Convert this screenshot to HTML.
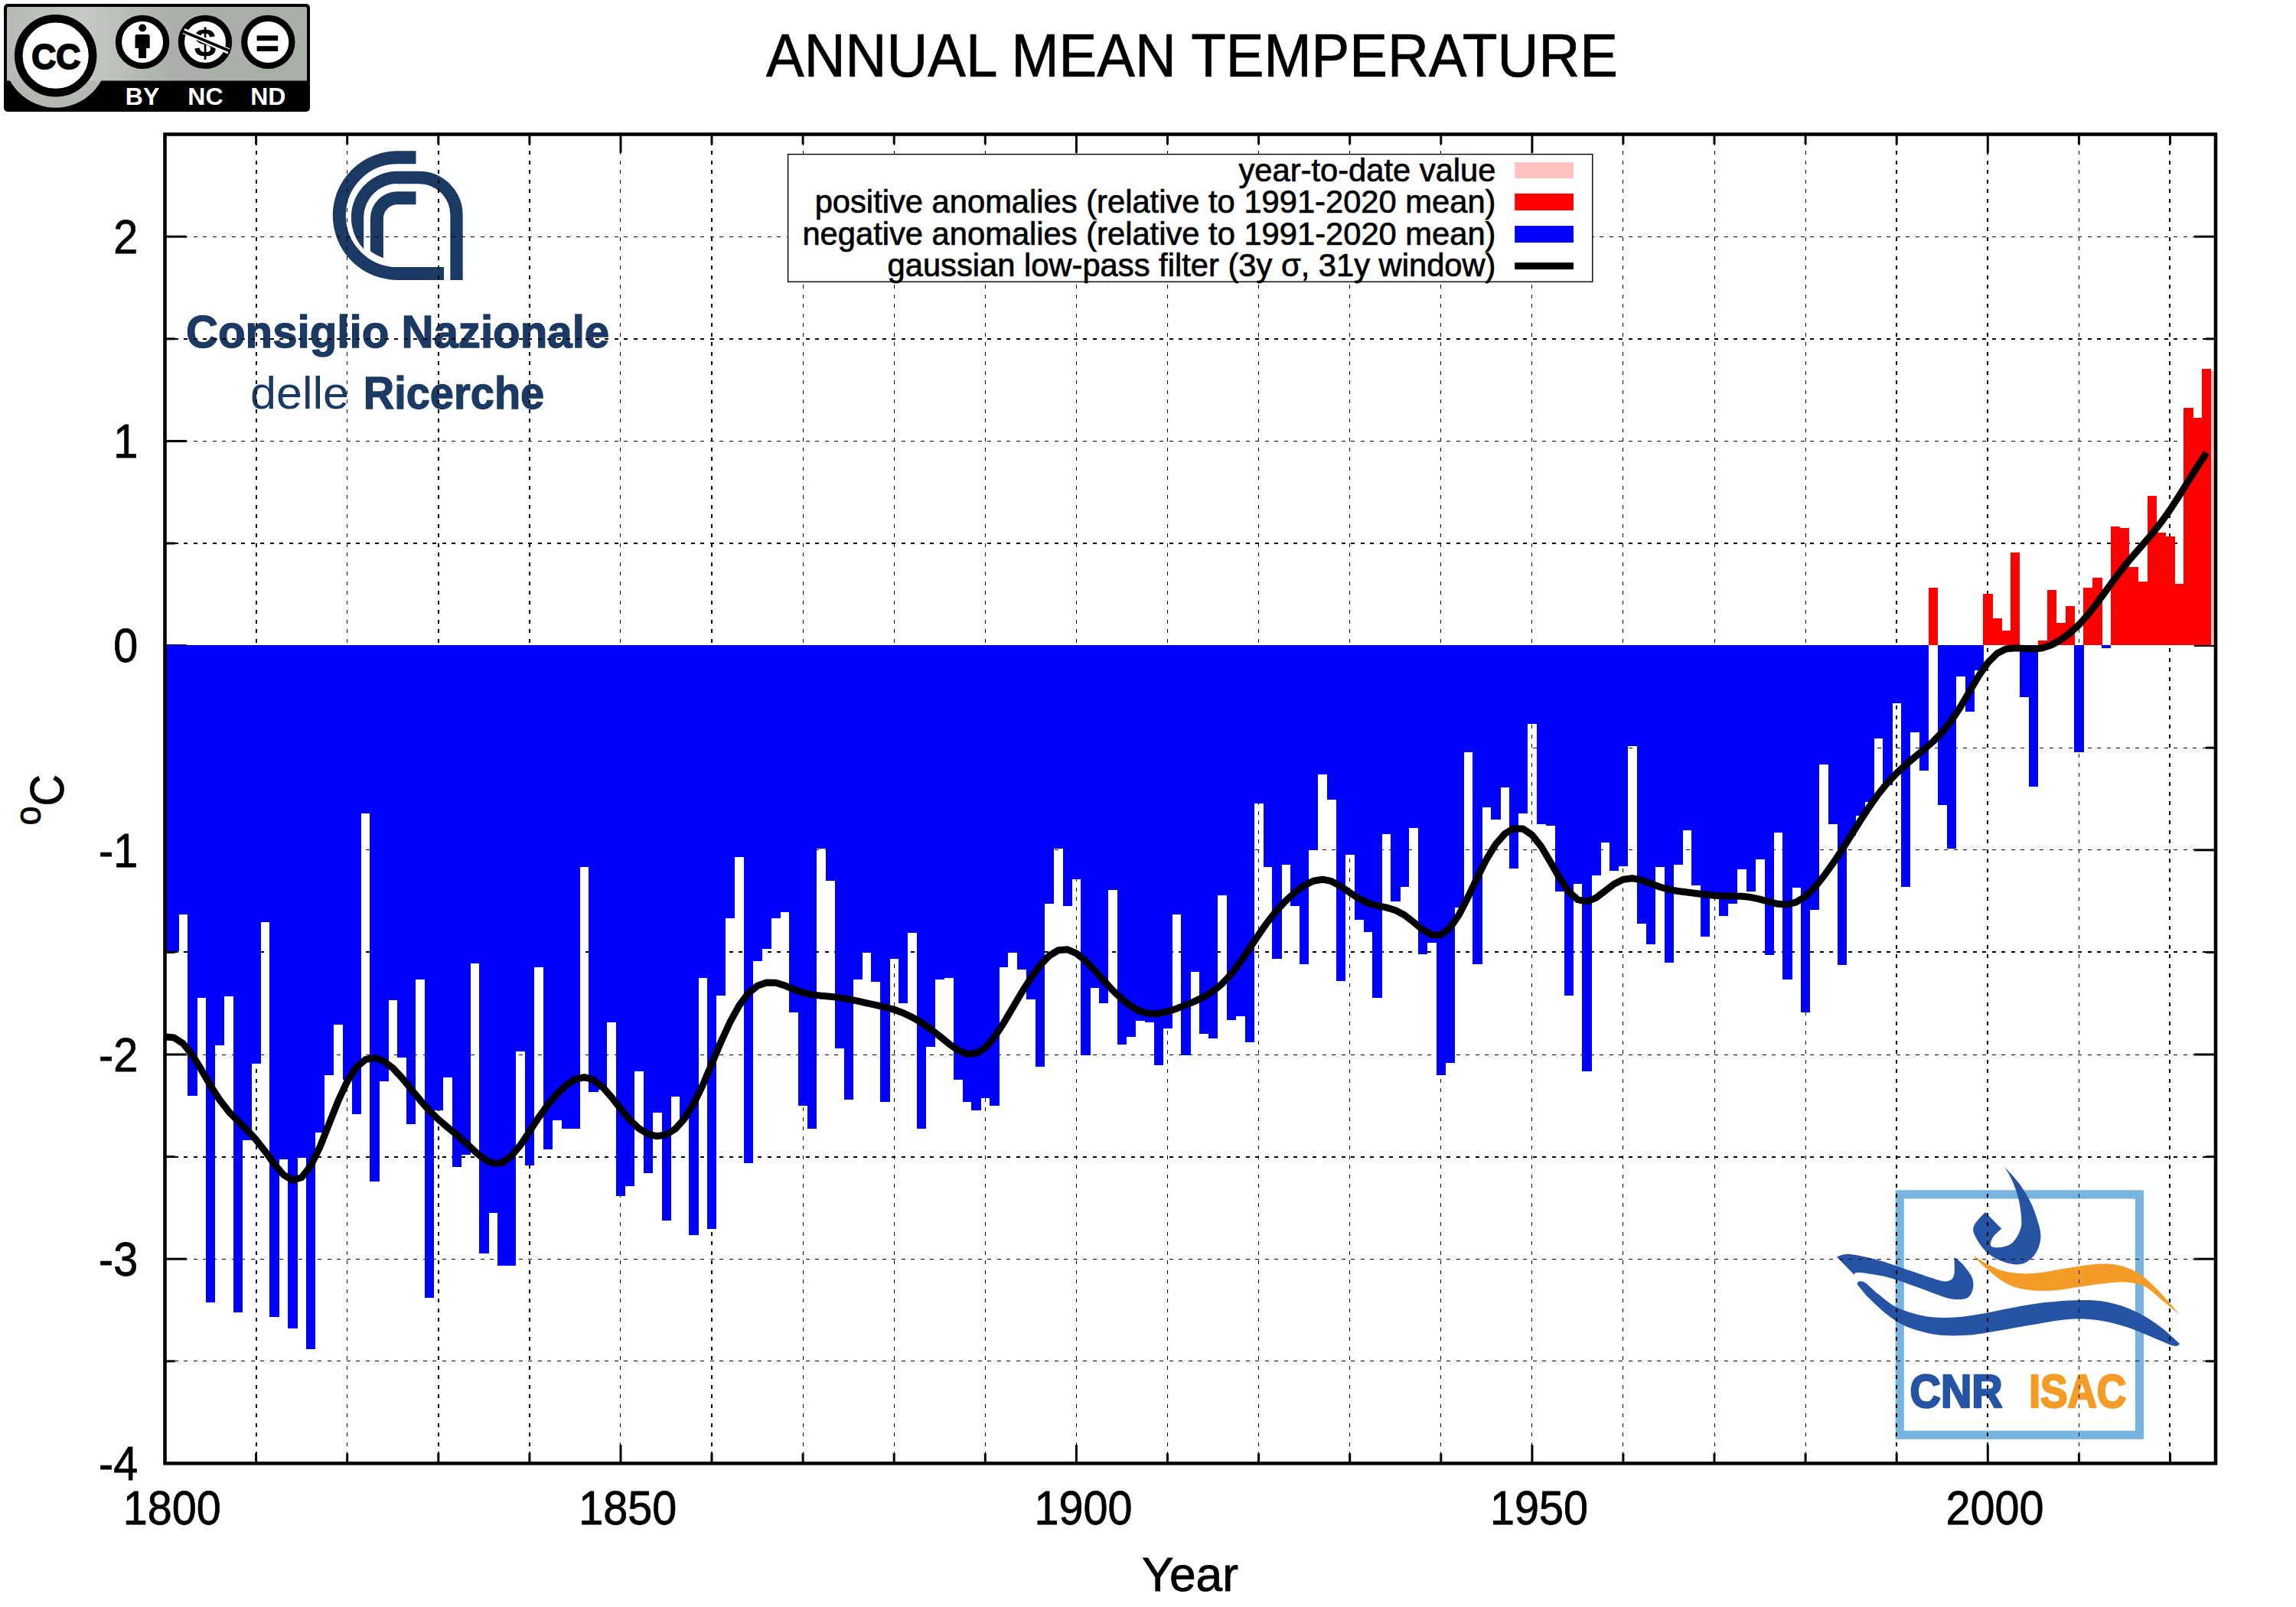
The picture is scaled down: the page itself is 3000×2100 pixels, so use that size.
<!DOCTYPE html>
<html lang="en"><head><meta charset="utf-8"><title>ANNUAL MEAN TEMPERATURE</title>
<style>html,body{margin:0;padding:0;background:#fff}body{width:3000px;height:2100px;overflow:hidden}svg text{fill:#000}.hv{stroke:#000;stroke-width:0.8px}.leg{stroke:#000;stroke-width:0.7px}</style>
</head><body>
<svg width="3000" height="2100" viewBox="0 0 3000 2100" style="display:block">
<rect width="3000" height="2100" fill="#fff"/>
<g><path d="M543.5,205.7 L519.2,205.7 A75.9,75.9 0 0 0 519.2,357.5 L580.1,357.5" fill="none" stroke="#1b3a63" stroke-width="17"/><path d="M519.2,223.8 A60.3,60.3 0 0 0 475.2,325.3 L475.2,284.1 A44.0,44.0 0 0 1 519.2,240.1 Z" fill="#1b3a63"/><path d="M518.7,232.0 L547.5,232.0 A49,49 0 0 1 596.5,281.0 L596.5,366" fill="none" stroke="#1b3a63" stroke-width="16.3"/><path d="M543.5,250.3 L519.2,250.3 A35.3,35.3 0 0 0 483.9,285.6 L483.9,328.2 A58.5,58.5 0 0 0 500.9,337.2 L500.9,285.6 A18.3,18.3 0 0 1 519.2,267.3 L543.5,267.3 Z" fill="#1b3a63"/></g>
<text x="243" y="454.4" font-family="'Liberation Sans',sans-serif" font-weight="700" font-size="59" style="fill:#1b3a63;stroke:#1b3a63;stroke-width:1.3px" textLength="553.2" lengthAdjust="spacingAndGlyphs">Consiglio Nazionale</text>
<text x="327" y="534" font-family="'Liberation Sans',sans-serif" font-size="59" style="fill:#1b3a63" textLength="129" lengthAdjust="spacingAndGlyphs">delle</text>
<text x="474.8" y="534" font-family="'Liberation Sans',sans-serif" font-weight="700" font-size="59" style="fill:#1b3a63;stroke:#1b3a63;stroke-width:1.3px" textLength="236.4" lengthAdjust="spacingAndGlyphs">Ricerche</text>
<rect x="2482.2" y="1560.9" width="313.3" height="314.3" fill="none" stroke="#78b4e0" stroke-width="11.2"/>
<path d="M2427.8,1679.7 C2427.6,1679.1 2426.3,1677.1 2426.8,1676.2 C2427.3,1675.3 2429.1,1674.1 2431.0,1674.2 C2433.0,1674.4 2434.5,1674.3 2438.5,1677.2 C2442.4,1680.1 2447.8,1686.3 2454.7,1691.6 C2461.5,1696.9 2469.2,1704.3 2479.6,1709.1 C2489.9,1713.8 2504.4,1718.2 2516.9,1720.3 C2529.3,1722.3 2541.8,1722.1 2554.2,1721.5 C2566.7,1720.9 2579.1,1718.6 2591.5,1716.5 C2604.0,1714.5 2616.4,1711.3 2628.9,1709.1 C2641.3,1706.8 2651.7,1704.5 2666.2,1702.8 C2680.7,1701.2 2701.5,1699.3 2716.0,1699.1 C2730.5,1698.9 2740.9,1699.1 2753.3,1701.6 C2765.8,1704.1 2779.0,1708.6 2790.7,1714.0 C2802.3,1719.4 2813.4,1726.9 2823.0,1733.9 C2832.6,1741.0 2844.2,1752.6 2848.4,1756.3 L2848.4,1756.3 C2847.1,1756.8 2845.9,1760.1 2840.4,1758.8 C2835.0,1757.6 2825.9,1753.0 2815.5,1748.9 C2805.2,1744.7 2790.7,1737.9 2778.2,1733.9 C2765.8,1730.0 2753.3,1726.9 2740.9,1725.2 C2728.4,1723.6 2718.1,1723.0 2703.5,1724.0 C2689.0,1725.0 2670.4,1728.8 2653.8,1731.5 C2637.2,1734.2 2618.5,1737.9 2604.0,1740.2 C2589.5,1742.5 2579.1,1744.5 2566.7,1745.1 C2554.2,1745.8 2541.8,1745.8 2529.3,1743.9 C2516.9,1742.0 2502.4,1738.1 2492.0,1733.9 C2481.6,1729.8 2475.4,1725.2 2467.1,1719.0 C2458.8,1712.8 2448.8,1703.2 2442.2,1696.6 C2435.7,1690.1 2430.2,1682.5 2427.8,1679.7 Z" fill="#2654a4"/>
<path d="M2399.9,1642.4 C2402.8,1641.8 2408.2,1638.1 2417.3,1638.9 C2426.5,1639.6 2442.2,1643.4 2454.7,1646.8 C2467.1,1650.2 2479.6,1655.1 2492.0,1659.3 C2504.4,1663.4 2520.6,1669.2 2529.3,1671.7 C2538.0,1674.2 2540.3,1675.0 2544.3,1674.2 C2548.2,1673.4 2551.4,1671.9 2553.0,1666.7 C2554.5,1661.6 2553.4,1647.0 2553.5,1643.1 L2553.5,1643.1 C2555.3,1644.6 2560.3,1647.5 2564.2,1651.8 C2568.0,1656.2 2574.3,1663.8 2576.6,1669.2 C2578.9,1674.6 2578.7,1679.8 2577.9,1684.2 C2577.0,1688.5 2574.7,1693.1 2571.6,1695.4 C2568.5,1697.7 2564.2,1697.9 2559.2,1697.9 C2554.2,1697.9 2550.9,1698.1 2541.8,1695.4 C2532.6,1692.7 2516.9,1686.0 2504.4,1681.7 C2492.0,1677.3 2479.6,1672.3 2467.1,1669.2 C2454.7,1666.1 2437.2,1663.6 2429.8,1663.0 C2422.3,1662.4 2423.6,1665.1 2422.3,1665.5 Z" fill="#2654a4"/>
<path d="M2619.4,1524.9 C2622.7,1528.6 2633.1,1539.4 2638.8,1547.3 C2644.6,1555.2 2649.6,1563.5 2653.8,1572.2 C2657.9,1580.9 2661.6,1591.7 2663.7,1599.6 C2665.8,1607.4 2667.0,1612.8 2666.2,1619.5 C2665.4,1626.1 2662.9,1634.0 2658.7,1639.4 C2654.6,1644.8 2648.0,1650.2 2641.3,1651.8 C2634.7,1653.5 2626.4,1651.8 2618.9,1649.3 C2611.5,1646.8 2602.7,1642.3 2596.5,1636.9 C2590.3,1631.5 2584.5,1622.8 2581.6,1617.0 C2578.7,1611.2 2577.0,1607.5 2579.1,1602.0 C2581.2,1596.6 2591.5,1587.1 2594.0,1584.1 L2615.2,1605.8 C2613.3,1607.6 2606.3,1613.2 2604.0,1617.0 C2601.7,1620.7 2599.8,1626.0 2601.5,1628.2 C2603.2,1630.3 2609.4,1630.5 2613.9,1629.9 C2618.5,1629.3 2624.7,1627.8 2628.9,1624.4 C2633.0,1621.0 2636.8,1614.5 2638.8,1609.5 C2640.9,1604.5 2641.5,1601.6 2641.3,1594.6 C2641.1,1587.5 2639.7,1575.9 2637.6,1567.2 C2635.5,1558.5 2631.9,1549.4 2628.9,1542.3 C2625.9,1535.3 2621.0,1527.8 2619.4,1524.9 Z" fill="#2654a4"/>
<path d="M2577.9,1640.6 C2581.0,1642.5 2590.1,1648.5 2596.5,1651.8 C2603.0,1655.1 2609.0,1658.5 2616.4,1660.5 C2623.9,1662.6 2633.0,1663.8 2641.3,1664.3 C2649.6,1664.7 2655.8,1664.3 2666.2,1663.0 C2676.6,1661.8 2691.1,1658.7 2703.5,1656.8 C2716.0,1654.9 2730.5,1652.4 2740.9,1651.8 C2751.2,1651.2 2757.5,1651.4 2765.8,1653.1 C2774.1,1654.7 2782.4,1657.0 2790.7,1661.8 C2798.9,1666.5 2805.8,1672.1 2815.5,1681.7 C2825.3,1691.2 2843.5,1712.8 2849.1,1719.0 L2849.1,1719.0 C2845.6,1716.1 2835.7,1707.8 2828.0,1701.6 C2820.3,1695.4 2811.4,1686.0 2803.1,1681.7 C2794.8,1677.3 2786.5,1676.3 2778.2,1675.5 C2769.9,1674.6 2763.7,1675.7 2753.3,1676.7 C2743.0,1677.7 2728.4,1680.0 2716.0,1681.7 C2703.5,1683.3 2691.1,1686.2 2678.7,1686.7 C2666.2,1687.1 2651.7,1686.2 2641.3,1684.2 C2631.0,1682.1 2624.7,1679.2 2616.4,1674.2 C2608.1,1669.2 2598.0,1659.9 2591.5,1654.3 C2585.1,1648.7 2580.1,1642.9 2577.9,1640.6 Z" fill="#f59c28"/>
<text x="2495.6" y="1838.8" font-family="'Liberation Sans',sans-serif" font-weight="700" font-size="62" style="fill:#2654a4;stroke:#2654a4;stroke-width:2.6px;stroke-linejoin:round" textLength="121" lengthAdjust="spacingAndGlyphs">CNR</text>
<text x="2651.2" y="1838.8" font-family="'Liberation Sans',sans-serif" font-weight="700" font-size="62" style="fill:#f59c28;stroke:#f59c28;stroke-width:2.6px;stroke-linejoin:round" textLength="127" lengthAdjust="spacingAndGlyphs">ISAC</text>
<g stroke="#000" stroke-width="1" stroke-dasharray="4.8 7.7" fill="none" shape-rendering="crispEdges"><line x1="215.4" y1="1778.5" x2="2895.0" y2="1778.5"/><line x1="215.4" y1="1645.5" x2="2895.0" y2="1645.5"/><line x1="215.4" y1="1378.5" x2="2895.0" y2="1378.5"/><line x1="215.4" y1="1110.5" x2="2895.0" y2="1110.5"/><line x1="215.4" y1="977.5" x2="2895.0" y2="977.5"/><line x1="215.4" y1="576.5" x2="2895.0" y2="576.5"/><line x1="215.4" y1="309.5" x2="2895.0" y2="309.5"/><line x1="453.5" y1="1902.0" x2="453.5" y2="175.5"/><line x1="810.5" y1="1902.0" x2="810.5" y2="175.5"/><line x1="1049.5" y1="1902.0" x2="1049.5" y2="175.5"/><line x1="1168.5" y1="1902.0" x2="1168.5" y2="175.5"/><line x1="1287.5" y1="1902.0" x2="1287.5" y2="175.5"/><line x1="1406.5" y1="1902.0" x2="1406.5" y2="175.5"/><line x1="1525.5" y1="1902.0" x2="1525.5" y2="175.5"/><line x1="1644.5" y1="1902.0" x2="1644.5" y2="175.5"/><line x1="1763.5" y1="1902.0" x2="1763.5" y2="175.5"/><line x1="1882.5" y1="1902.0" x2="1882.5" y2="175.5"/><line x1="2001.5" y1="1902.0" x2="2001.5" y2="175.5"/><line x1="2120.5" y1="1902.0" x2="2120.5" y2="175.5"/><line x1="2240.5" y1="1902.0" x2="2240.5" y2="175.5"/><line x1="2359.5" y1="1902.0" x2="2359.5" y2="175.5"/><line x1="2716.5" y1="1902.0" x2="2716.5" y2="175.5"/></g>
<g stroke="#000" stroke-width="2" stroke-dasharray="4.8 7.7" fill="none" shape-rendering="crispEdges"><line x1="215.4" y1="1512.0" x2="2895.0" y2="1512.0"/><line x1="215.4" y1="1244.0" x2="2895.0" y2="1244.0"/><line x1="215.4" y1="710.0" x2="2895.0" y2="710.0"/><line x1="215.4" y1="443.0" x2="2895.0" y2="443.0"/><line x1="335.0" y1="1902.0" x2="335.0" y2="175.5"/><line x1="573.0" y1="1902.0" x2="573.0" y2="175.5"/><line x1="692.0" y1="1902.0" x2="692.0" y2="175.5"/><line x1="930.0" y1="1902.0" x2="930.0" y2="175.5"/><line x1="2478.0" y1="1902.0" x2="2478.0" y2="175.5"/><line x1="2597.0" y1="1902.0" x2="2597.0" y2="175.5"/><line x1="2835.0" y1="1902.0" x2="2835.0" y2="175.5"/></g>
<g stroke="#000" stroke-width="3" fill="none"><line x1="334.6" y1="1912.3" x2="334.6" y2="1899.1"/><line x1="334.6" y1="175.5" x2="334.6" y2="188.7"/><line x1="453.7" y1="1912.3" x2="453.7" y2="1899.1"/><line x1="453.7" y1="175.5" x2="453.7" y2="188.7"/><line x1="572.8" y1="1912.3" x2="572.8" y2="1899.1"/><line x1="572.8" y1="175.5" x2="572.8" y2="188.7"/><line x1="691.9" y1="1912.3" x2="691.9" y2="1899.1"/><line x1="691.9" y1="175.5" x2="691.9" y2="188.7"/><line x1="811.0" y1="1912.3" x2="811.0" y2="1888.1"/><line x1="811.0" y1="175.5" x2="811.0" y2="199.7"/><line x1="930.0" y1="1912.3" x2="930.0" y2="1899.1"/><line x1="930.0" y1="175.5" x2="930.0" y2="188.7"/><line x1="1049.1" y1="1912.3" x2="1049.1" y2="1899.1"/><line x1="1049.1" y1="175.5" x2="1049.1" y2="188.7"/><line x1="1168.2" y1="1912.3" x2="1168.2" y2="1899.1"/><line x1="1168.2" y1="175.5" x2="1168.2" y2="188.7"/><line x1="1287.3" y1="1912.3" x2="1287.3" y2="1899.1"/><line x1="1287.3" y1="175.5" x2="1287.3" y2="188.7"/><line x1="1406.4" y1="1912.3" x2="1406.4" y2="1888.1"/><line x1="1406.4" y1="175.5" x2="1406.4" y2="199.7"/><line x1="1525.5" y1="1912.3" x2="1525.5" y2="1899.1"/><line x1="1525.5" y1="175.5" x2="1525.5" y2="188.7"/><line x1="1644.6" y1="1912.3" x2="1644.6" y2="1899.1"/><line x1="1644.6" y1="175.5" x2="1644.6" y2="188.7"/><line x1="1763.7" y1="1912.3" x2="1763.7" y2="1899.1"/><line x1="1763.7" y1="175.5" x2="1763.7" y2="188.7"/><line x1="1882.8" y1="1912.3" x2="1882.8" y2="1899.1"/><line x1="1882.8" y1="175.5" x2="1882.8" y2="188.7"/><line x1="2001.9" y1="1912.3" x2="2001.9" y2="1888.1"/><line x1="2001.9" y1="175.5" x2="2001.9" y2="199.7"/><line x1="2120.9" y1="1912.3" x2="2120.9" y2="1899.1"/><line x1="2120.9" y1="175.5" x2="2120.9" y2="188.7"/><line x1="2240.0" y1="1912.3" x2="2240.0" y2="1899.1"/><line x1="2240.0" y1="175.5" x2="2240.0" y2="188.7"/><line x1="2359.1" y1="1912.3" x2="2359.1" y2="1899.1"/><line x1="2359.1" y1="175.5" x2="2359.1" y2="188.7"/><line x1="2478.2" y1="1912.3" x2="2478.2" y2="1899.1"/><line x1="2478.2" y1="175.5" x2="2478.2" y2="188.7"/><line x1="2597.3" y1="1912.3" x2="2597.3" y2="1888.1"/><line x1="2597.3" y1="175.5" x2="2597.3" y2="199.7"/><line x1="2716.4" y1="1912.3" x2="2716.4" y2="1899.1"/><line x1="2716.4" y1="175.5" x2="2716.4" y2="188.7"/><line x1="2835.5" y1="1912.3" x2="2835.5" y2="1899.1"/><line x1="2835.5" y1="175.5" x2="2835.5" y2="188.7"/><line x1="215.5" y1="1778.8" x2="228.7" y2="1778.8"/><line x1="2895.0" y1="1778.8" x2="2881.8" y2="1778.8"/><line x1="215.5" y1="1645.2" x2="243.7" y2="1645.2"/><line x1="2895.0" y1="1645.2" x2="2866.8" y2="1645.2"/><line x1="215.5" y1="1511.6" x2="228.7" y2="1511.6"/><line x1="2895.0" y1="1511.6" x2="2881.8" y2="1511.6"/><line x1="215.5" y1="1378.0" x2="243.7" y2="1378.0"/><line x1="2895.0" y1="1378.0" x2="2866.8" y2="1378.0"/><line x1="215.5" y1="1244.4" x2="228.7" y2="1244.4"/><line x1="2895.0" y1="1244.4" x2="2881.8" y2="1244.4"/><line x1="215.5" y1="1110.8" x2="243.7" y2="1110.8"/><line x1="2895.0" y1="1110.8" x2="2866.8" y2="1110.8"/><line x1="215.5" y1="977.2" x2="228.7" y2="977.2"/><line x1="2895.0" y1="977.2" x2="2881.8" y2="977.2"/><line x1="215.5" y1="843.6" x2="243.7" y2="843.6"/><line x1="2895.0" y1="843.6" x2="2866.8" y2="843.6"/><line x1="215.5" y1="710.0" x2="228.7" y2="710.0"/><line x1="2895.0" y1="710.0" x2="2881.8" y2="710.0"/><line x1="215.5" y1="576.4" x2="243.7" y2="576.4"/><line x1="2895.0" y1="576.4" x2="2866.8" y2="576.4"/><line x1="215.5" y1="442.8" x2="228.7" y2="442.8"/><line x1="2895.0" y1="442.8" x2="2881.8" y2="442.8"/><line x1="215.5" y1="309.2" x2="243.7" y2="309.2"/><line x1="2895.0" y1="309.2" x2="2866.8" y2="309.2"/></g>
<g shape-rendering="crispEdges"><rect x="215.50" y="843.4" width="6.30" height="399.6" fill="#0000ff"/><rect x="221.45" y="843.4" width="12.26" height="399.6" fill="#0000ff"/><rect x="233.36" y="843.4" width="12.26" height="351.6" fill="#0000ff"/><rect x="245.27" y="843.4" width="12.26" height="588.6" fill="#0000ff"/><rect x="257.18" y="843.4" width="12.26" height="460.6" fill="#0000ff"/><rect x="269.09" y="843.4" width="12.26" height="858.6" fill="#0000ff"/><rect x="281.00" y="843.4" width="12.26" height="522.6" fill="#0000ff"/><rect x="292.91" y="843.4" width="12.26" height="458.6" fill="#0000ff"/><rect x="304.82" y="843.4" width="12.26" height="871.6" fill="#0000ff"/><rect x="316.73" y="843.4" width="12.26" height="646.6" fill="#0000ff"/><rect x="328.64" y="843.4" width="12.26" height="546.6" fill="#0000ff"/><rect x="340.54" y="843.4" width="12.26" height="361.6" fill="#0000ff"/><rect x="352.45" y="843.4" width="12.26" height="877.1" fill="#0000ff"/><rect x="364.36" y="843.4" width="12.26" height="671.2" fill="#0000ff"/><rect x="376.27" y="843.4" width="12.26" height="892.8" fill="#0000ff"/><rect x="388.18" y="843.4" width="12.26" height="669.1" fill="#0000ff"/><rect x="400.09" y="843.4" width="12.26" height="919.9" fill="#0000ff"/><rect x="412.00" y="843.4" width="12.26" height="636.6" fill="#0000ff"/><rect x="423.91" y="843.4" width="12.26" height="562.0" fill="#0000ff"/><rect x="435.82" y="843.4" width="12.26" height="495.6" fill="#0000ff"/><rect x="447.73" y="843.4" width="12.26" height="567.6" fill="#0000ff"/><rect x="459.63" y="843.4" width="12.26" height="612.9" fill="#0000ff"/><rect x="471.54" y="843.4" width="12.26" height="219.6" fill="#0000ff"/><rect x="483.45" y="843.4" width="12.26" height="701.0" fill="#0000ff"/><rect x="495.36" y="843.4" width="12.26" height="569.9" fill="#0000ff"/><rect x="507.27" y="843.4" width="12.26" height="463.1" fill="#0000ff"/><rect x="519.18" y="843.4" width="12.26" height="538.2" fill="#0000ff"/><rect x="531.09" y="843.4" width="12.26" height="626.0" fill="#0000ff"/><rect x="543.00" y="843.4" width="12.26" height="436.6" fill="#0000ff"/><rect x="554.91" y="843.4" width="12.26" height="853.0" fill="#0000ff"/><rect x="566.82" y="843.4" width="12.26" height="607.2" fill="#0000ff"/><rect x="578.72" y="843.4" width="12.26" height="564.6" fill="#0000ff"/><rect x="590.63" y="843.4" width="12.26" height="681.9" fill="#0000ff"/><rect x="602.54" y="843.4" width="12.26" height="665.9" fill="#0000ff"/><rect x="614.45" y="843.4" width="12.26" height="415.6" fill="#0000ff"/><rect x="626.36" y="843.4" width="12.26" height="794.2" fill="#0000ff"/><rect x="638.27" y="843.4" width="12.26" height="741.2" fill="#0000ff"/><rect x="650.18" y="843.4" width="12.26" height="811.0" fill="#0000ff"/><rect x="662.09" y="843.4" width="12.26" height="811.0" fill="#0000ff"/><rect x="674.00" y="843.4" width="12.26" height="530.6" fill="#0000ff"/><rect x="685.91" y="843.4" width="12.26" height="679.3" fill="#0000ff"/><rect x="697.81" y="843.4" width="12.26" height="420.6" fill="#0000ff"/><rect x="709.72" y="843.4" width="12.26" height="658.1" fill="#0000ff"/><rect x="721.63" y="843.4" width="12.26" height="621.0" fill="#0000ff"/><rect x="733.54" y="843.4" width="12.26" height="631.2" fill="#0000ff"/><rect x="745.45" y="843.4" width="12.26" height="631.2" fill="#0000ff"/><rect x="757.36" y="843.4" width="12.26" height="289.3" fill="#0000ff"/><rect x="769.27" y="843.4" width="12.26" height="583.1" fill="#0000ff"/><rect x="781.18" y="843.4" width="12.26" height="580.6" fill="#0000ff"/><rect x="793.09" y="843.4" width="12.26" height="492.6" fill="#0000ff"/><rect x="805.00" y="843.4" width="12.26" height="719.2" fill="#0000ff"/><rect x="816.90" y="843.4" width="12.26" height="706.1" fill="#0000ff"/><rect x="828.81" y="843.4" width="12.26" height="556.4" fill="#0000ff"/><rect x="840.72" y="843.4" width="12.26" height="689.9" fill="#0000ff"/><rect x="852.63" y="843.4" width="12.26" height="610.2" fill="#0000ff"/><rect x="864.54" y="843.4" width="12.26" height="751.3" fill="#0000ff"/><rect x="876.45" y="843.4" width="12.26" height="589.1" fill="#0000ff"/><rect x="888.36" y="843.4" width="12.26" height="618.6" fill="#0000ff"/><rect x="900.27" y="843.4" width="12.26" height="770.2" fill="#0000ff"/><rect x="912.18" y="843.4" width="12.26" height="434.1" fill="#0000ff"/><rect x="924.09" y="843.4" width="12.26" height="762.3" fill="#0000ff"/><rect x="935.99" y="843.4" width="12.26" height="457.9" fill="#0000ff"/><rect x="947.90" y="843.4" width="12.26" height="356.5" fill="#0000ff"/><rect x="959.81" y="843.4" width="12.26" height="276.3" fill="#0000ff"/><rect x="971.72" y="843.4" width="12.26" height="676.9" fill="#0000ff"/><rect x="983.63" y="843.4" width="12.26" height="412.2" fill="#0000ff"/><rect x="995.54" y="843.4" width="12.26" height="396.2" fill="#0000ff"/><rect x="1007.45" y="843.4" width="12.26" height="356.5" fill="#0000ff"/><rect x="1019.36" y="843.4" width="12.26" height="348.4" fill="#0000ff"/><rect x="1031.27" y="843.4" width="12.26" height="479.1" fill="#0000ff"/><rect x="1043.18" y="843.4" width="12.26" height="601.6" fill="#0000ff"/><rect x="1055.08" y="843.4" width="12.26" height="631.1" fill="#0000ff"/><rect x="1066.99" y="843.4" width="12.26" height="265.6" fill="#0000ff"/><rect x="1078.90" y="843.4" width="12.26" height="307.9" fill="#0000ff"/><rect x="1090.81" y="843.4" width="12.26" height="526.8" fill="#0000ff"/><rect x="1102.72" y="843.4" width="12.26" height="593.8" fill="#0000ff"/><rect x="1114.63" y="843.4" width="12.26" height="436.5" fill="#0000ff"/><rect x="1126.54" y="843.4" width="12.26" height="401.7" fill="#0000ff"/><rect x="1138.45" y="843.4" width="12.26" height="439.3" fill="#0000ff"/><rect x="1150.36" y="843.4" width="12.26" height="596.1" fill="#0000ff"/><rect x="1162.27" y="843.4" width="12.26" height="409.5" fill="#0000ff"/><rect x="1174.17" y="843.4" width="12.26" height="468.0" fill="#0000ff"/><rect x="1186.08" y="843.4" width="12.26" height="375.6" fill="#0000ff"/><rect x="1197.99" y="843.4" width="12.26" height="631.1" fill="#0000ff"/><rect x="1209.90" y="843.4" width="12.26" height="524.1" fill="#0000ff"/><rect x="1221.81" y="843.4" width="12.26" height="436.5" fill="#0000ff"/><rect x="1233.72" y="843.4" width="12.26" height="434.1" fill="#0000ff"/><rect x="1245.63" y="843.4" width="12.26" height="567.2" fill="#0000ff"/><rect x="1257.54" y="843.4" width="12.26" height="596.1" fill="#0000ff"/><rect x="1269.45" y="843.4" width="12.26" height="607.1" fill="#0000ff"/><rect x="1281.36" y="843.4" width="12.26" height="591.2" fill="#0000ff"/><rect x="1293.26" y="843.4" width="12.26" height="601.6" fill="#0000ff"/><rect x="1305.17" y="843.4" width="12.26" height="420.5" fill="#0000ff"/><rect x="1317.08" y="843.4" width="12.26" height="401.7" fill="#0000ff"/><rect x="1328.99" y="843.4" width="12.26" height="423.1" fill="#0000ff"/><rect x="1340.90" y="843.4" width="12.26" height="462.6" fill="#0000ff"/><rect x="1352.81" y="843.4" width="12.26" height="550.9" fill="#0000ff"/><rect x="1364.72" y="843.4" width="12.26" height="337.4" fill="#0000ff"/><rect x="1376.63" y="843.4" width="12.26" height="265.6" fill="#0000ff"/><rect x="1388.54" y="843.4" width="12.26" height="340.2" fill="#0000ff"/><rect x="1400.45" y="843.4" width="12.26" height="305.4" fill="#0000ff"/><rect x="1412.35" y="843.4" width="12.26" height="535.1" fill="#0000ff"/><rect x="1424.26" y="843.4" width="12.26" height="447.3" fill="#0000ff"/><rect x="1436.17" y="843.4" width="12.26" height="468.0" fill="#0000ff"/><rect x="1448.08" y="843.4" width="12.26" height="319.3" fill="#0000ff"/><rect x="1459.99" y="843.4" width="12.26" height="522.0" fill="#0000ff"/><rect x="1471.90" y="843.4" width="12.26" height="511.1" fill="#0000ff"/><rect x="1483.81" y="843.4" width="12.26" height="490.2" fill="#0000ff"/><rect x="1495.72" y="843.4" width="12.26" height="492.3" fill="#0000ff"/><rect x="1507.63" y="843.4" width="12.26" height="549.0" fill="#0000ff"/><rect x="1519.54" y="843.4" width="12.26" height="500.1" fill="#0000ff"/><rect x="1531.44" y="843.4" width="12.26" height="351.1" fill="#0000ff"/><rect x="1543.35" y="843.4" width="12.26" height="535.1" fill="#0000ff"/><rect x="1555.26" y="843.4" width="12.26" height="426.1" fill="#0000ff"/><rect x="1567.17" y="843.4" width="12.26" height="507.9" fill="#0000ff"/><rect x="1579.08" y="843.4" width="12.26" height="513.7" fill="#0000ff"/><rect x="1590.99" y="843.4" width="12.26" height="326.6" fill="#0000ff"/><rect x="1602.90" y="843.4" width="12.26" height="489.9" fill="#0000ff"/><rect x="1614.81" y="843.4" width="12.26" height="484.4" fill="#0000ff"/><rect x="1626.72" y="843.4" width="12.26" height="518.9" fill="#0000ff"/><rect x="1638.63" y="843.4" width="12.26" height="206.6" fill="#0000ff"/><rect x="1650.53" y="843.4" width="12.26" height="289.5" fill="#0000ff"/><rect x="1662.44" y="843.4" width="12.26" height="409.2" fill="#0000ff"/><rect x="1674.35" y="843.4" width="12.26" height="286.9" fill="#0000ff"/><rect x="1686.26" y="843.4" width="12.26" height="340.2" fill="#0000ff"/><rect x="1698.17" y="843.4" width="12.26" height="417.0" fill="#0000ff"/><rect x="1710.08" y="843.4" width="12.26" height="267.8" fill="#0000ff"/><rect x="1721.99" y="843.4" width="12.26" height="169.0" fill="#0000ff"/><rect x="1733.90" y="843.4" width="12.26" height="201.1" fill="#0000ff"/><rect x="1745.81" y="843.4" width="12.26" height="438.9" fill="#0000ff"/><rect x="1757.72" y="843.4" width="12.26" height="273.6" fill="#0000ff"/><rect x="1769.62" y="843.4" width="12.26" height="359.0" fill="#0000ff"/><rect x="1781.53" y="843.4" width="12.26" height="374.9" fill="#0000ff"/><rect x="1793.44" y="843.4" width="12.26" height="460.1" fill="#0000ff"/><rect x="1805.35" y="843.4" width="12.26" height="246.4" fill="#0000ff"/><rect x="1817.26" y="843.4" width="12.26" height="334.3" fill="#0000ff"/><rect x="1829.17" y="843.4" width="12.26" height="316.0" fill="#0000ff"/><rect x="1841.08" y="843.4" width="12.26" height="238.4" fill="#0000ff"/><rect x="1852.99" y="843.4" width="12.26" height="403.9" fill="#0000ff"/><rect x="1864.90" y="843.4" width="12.26" height="388.3" fill="#0000ff"/><rect x="1876.81" y="843.4" width="12.26" height="562.0" fill="#0000ff"/><rect x="1888.71" y="843.4" width="12.26" height="545.8" fill="#0000ff"/><rect x="1900.62" y="843.4" width="12.26" height="342.8" fill="#0000ff"/><rect x="1912.53" y="843.4" width="12.26" height="139.5" fill="#0000ff"/><rect x="1924.44" y="843.4" width="12.26" height="417.0" fill="#0000ff"/><rect x="1936.35" y="843.4" width="12.26" height="211.4" fill="#0000ff"/><rect x="1948.26" y="843.4" width="12.26" height="228.0" fill="#0000ff"/><rect x="1960.17" y="843.4" width="12.26" height="185.2" fill="#0000ff"/><rect x="1972.08" y="843.4" width="12.26" height="291.9" fill="#0000ff"/><rect x="1983.99" y="843.4" width="12.26" height="219.2" fill="#0000ff"/><rect x="1995.90" y="843.4" width="12.26" height="102.1" fill="#0000ff"/><rect x="2007.80" y="843.4" width="12.26" height="233.1" fill="#0000ff"/><rect x="2019.71" y="843.4" width="12.26" height="236.0" fill="#0000ff"/><rect x="2031.62" y="843.4" width="12.26" height="321.1" fill="#0000ff"/><rect x="2043.53" y="843.4" width="12.26" height="457.9" fill="#0000ff"/><rect x="2055.44" y="843.4" width="12.26" height="311.1" fill="#0000ff"/><rect x="2067.35" y="843.4" width="12.26" height="556.4" fill="#0000ff"/><rect x="2079.26" y="843.4" width="12.26" height="300.2" fill="#0000ff"/><rect x="2091.17" y="843.4" width="12.26" height="257.3" fill="#0000ff"/><rect x="2103.08" y="843.4" width="12.26" height="294.4" fill="#0000ff"/><rect x="2114.99" y="843.4" width="12.26" height="289.0" fill="#0000ff"/><rect x="2126.89" y="843.4" width="12.26" height="131.6" fill="#0000ff"/><rect x="2138.80" y="843.4" width="12.26" height="363.9" fill="#0000ff"/><rect x="2150.71" y="843.4" width="12.26" height="391.0" fill="#0000ff"/><rect x="2162.62" y="843.4" width="12.26" height="289.1" fill="#0000ff"/><rect x="2174.53" y="843.4" width="12.26" height="415.0" fill="#0000ff"/><rect x="2186.44" y="843.4" width="12.26" height="286.6" fill="#0000ff"/><rect x="2198.35" y="843.4" width="12.26" height="241.4" fill="#0000ff"/><rect x="2210.26" y="843.4" width="12.26" height="313.3" fill="#0000ff"/><rect x="2222.17" y="843.4" width="12.26" height="380.3" fill="#0000ff"/><rect x="2234.08" y="843.4" width="12.26" height="328.6" fill="#0000ff"/><rect x="2245.98" y="843.4" width="12.26" height="353.3" fill="#0000ff"/><rect x="2257.89" y="843.4" width="12.26" height="337.6" fill="#0000ff"/><rect x="2269.80" y="843.4" width="12.26" height="292.3" fill="#0000ff"/><rect x="2281.71" y="843.4" width="12.26" height="321.1" fill="#0000ff"/><rect x="2293.62" y="843.4" width="12.26" height="279.1" fill="#0000ff"/><rect x="2305.53" y="843.4" width="12.26" height="404.3" fill="#0000ff"/><rect x="2317.44" y="843.4" width="12.26" height="244.2" fill="#0000ff"/><rect x="2329.35" y="843.4" width="12.26" height="436.2" fill="#0000ff"/><rect x="2341.26" y="843.4" width="12.26" height="316.1" fill="#0000ff"/><rect x="2353.17" y="843.4" width="12.26" height="479.3" fill="#0000ff"/><rect x="2365.07" y="843.4" width="12.26" height="345.1" fill="#0000ff"/><rect x="2376.98" y="843.4" width="12.26" height="155.6" fill="#0000ff"/><rect x="2388.89" y="843.4" width="12.26" height="233.2" fill="#0000ff"/><rect x="2400.80" y="843.4" width="12.26" height="417.4" fill="#0000ff"/><rect x="2412.71" y="843.4" width="12.26" height="248.9" fill="#0000ff"/><rect x="2424.62" y="843.4" width="12.26" height="222.6" fill="#0000ff"/><rect x="2436.53" y="843.4" width="12.26" height="204.1" fill="#0000ff"/><rect x="2448.44" y="843.4" width="12.26" height="121.1" fill="#0000ff"/><rect x="2460.35" y="843.4" width="12.26" height="182.2" fill="#0000ff"/><rect x="2472.26" y="843.4" width="12.26" height="75.6" fill="#0000ff"/><rect x="2484.16" y="843.4" width="12.26" height="315.6" fill="#0000ff"/><rect x="2496.07" y="843.4" width="12.26" height="113.2" fill="#0000ff"/><rect x="2507.98" y="843.4" width="12.26" height="163.9" fill="#0000ff"/><rect x="2519.89" y="767.9" width="12.26" height="75.5" fill="#ff0000"/><rect x="2531.80" y="843.4" width="12.26" height="209.0" fill="#0000ff"/><rect x="2543.71" y="843.4" width="12.26" height="265.1" fill="#0000ff"/><rect x="2555.62" y="843.4" width="12.26" height="40.3" fill="#0000ff"/><rect x="2567.53" y="843.4" width="12.26" height="86.1" fill="#0000ff"/><rect x="2579.44" y="843.4" width="12.26" height="32.6" fill="#0000ff"/><rect x="2591.35" y="776.0" width="12.26" height="67.4" fill="#ff0000"/><rect x="2603.25" y="808.3" width="12.26" height="35.1" fill="#ff0000"/><rect x="2615.16" y="824.0" width="12.26" height="19.4" fill="#ff0000"/><rect x="2627.07" y="722.0" width="12.26" height="121.4" fill="#ff0000"/><rect x="2638.98" y="843.4" width="12.26" height="67.3" fill="#0000ff"/><rect x="2650.89" y="843.4" width="12.26" height="184.8" fill="#0000ff"/><rect x="2662.80" y="837.1" width="12.26" height="6.3" fill="#ff0000"/><rect x="2674.71" y="770.9" width="12.26" height="72.5" fill="#ff0000"/><rect x="2686.62" y="814.0" width="12.26" height="29.4" fill="#ff0000"/><rect x="2698.53" y="792.0" width="12.26" height="51.4" fill="#ff0000"/><rect x="2710.44" y="843.4" width="12.26" height="139.1" fill="#0000ff"/><rect x="2722.34" y="768.1" width="12.26" height="75.3" fill="#ff0000"/><rect x="2734.25" y="755.1" width="12.26" height="88.3" fill="#ff0000"/><rect x="2746.16" y="843.4" width="12.26" height="3.2" fill="#0000ff"/><rect x="2758.07" y="688.1" width="12.26" height="155.3" fill="#ff0000"/><rect x="2769.98" y="690.1" width="12.26" height="153.3" fill="#ff0000"/><rect x="2781.89" y="741.1" width="12.26" height="102.3" fill="#ff0000"/><rect x="2793.80" y="760.1" width="12.26" height="83.3" fill="#ff0000"/><rect x="2805.71" y="648.1" width="12.26" height="195.3" fill="#ff0000"/><rect x="2817.62" y="696.3" width="12.26" height="147.1" fill="#ff0000"/><rect x="2829.53" y="701.3" width="12.26" height="142.1" fill="#ff0000"/><rect x="2841.43" y="762.9" width="12.26" height="80.5" fill="#ff0000"/><rect x="2853.34" y="533.1" width="12.26" height="310.3" fill="#ff0000"/><rect x="2865.25" y="546.1" width="12.26" height="297.3" fill="#ff0000"/><rect x="2877.16" y="482.3" width="12.26" height="361.1" fill="#ff0000"/><rect x="2889.07" y="484.8" width="5.93" height="358.6" fill="#ffc0c0"/></g>
<path d="M215.5,1354.8 L227.4,1355.9 L239.3,1363.7 L251.2,1378.5 L263.1,1397.9 L275.0,1418.6 L287.0,1437.3 L298.9,1452.6 L310.8,1465.0 L322.7,1476.5 L334.6,1489.4 L346.5,1504.7 L358.4,1521.2 L370.3,1535.2 L382.2,1542.2 L394.1,1538.7 L406.0,1523.5 L418.0,1498.8 L429.9,1468.9 L441.8,1438.8 L453.7,1413.2 L465.6,1394.8 L477.5,1384.6 L489.4,1382.3 L501.3,1386.5 L513.2,1395.7 L525.1,1408.4 L537.0,1423.0 L549.0,1437.7 L560.9,1451.3 L572.8,1462.9 L584.7,1473.0 L596.6,1482.8 L608.5,1493.3 L620.4,1504.5 L632.3,1514.5 L644.2,1520.3 L656.1,1519.5 L668.0,1511.0 L680.0,1496.4 L691.9,1478.6 L703.8,1460.4 L715.7,1443.9 L727.6,1429.7 L739.5,1418.3 L751.4,1410.5 L763.3,1407.7 L775.2,1411.0 L787.1,1420.3 L799.0,1433.8 L811.0,1449.0 L822.9,1463.3 L834.8,1474.7 L846.7,1482.0 L858.6,1484.8 L870.5,1482.7 L882.4,1475.3 L894.3,1462.0 L906.2,1442.7 L918.1,1418.2 L930.0,1390.3 L941.9,1361.8 L953.9,1335.6 L965.8,1314.0 L977.7,1298.1 L989.6,1288.2 L1001.5,1283.9 L1013.4,1284.2 L1025.3,1287.9 L1037.2,1292.9 L1049.1,1297.2 L1061.0,1299.9 L1072.9,1301.3 L1084.9,1302.2 L1096.8,1303.6 L1108.7,1305.7 L1120.6,1308.2 L1132.5,1310.8 L1144.4,1313.3 L1156.3,1316.0 L1168.2,1319.3 L1180.1,1323.8 L1192.0,1329.4 L1203.9,1336.4 L1215.9,1344.7 L1227.8,1354.1 L1239.7,1363.8 L1251.6,1372.3 L1263.5,1377.3 L1275.4,1376.6 L1287.3,1369.2 L1299.2,1355.5 L1311.1,1337.4 L1323.0,1317.2 L1334.9,1297.0 L1346.9,1278.1 L1358.8,1261.7 L1370.7,1249.1 L1382.6,1241.8 L1394.5,1240.7 L1406.4,1245.8 L1418.3,1255.5 L1430.2,1268.0 L1442.1,1281.3 L1454.0,1294.2 L1465.9,1305.6 L1477.9,1315.0 L1489.8,1321.5 L1501.7,1324.6 L1513.6,1324.5 L1525.5,1322.0 L1537.4,1318.0 L1549.3,1313.4 L1561.2,1308.4 L1573.1,1302.6 L1585.0,1295.2 L1596.9,1285.5 L1608.9,1272.7 L1620.8,1257.1 L1632.7,1239.4 L1644.6,1221.4 L1656.5,1204.5 L1668.4,1189.6 L1680.3,1176.9 L1692.2,1166.0 L1704.1,1157.2 L1716.0,1151.3 L1727.9,1149.2 L1739.9,1151.7 L1751.8,1158.1 L1763.7,1166.4 L1775.6,1174.3 L1787.5,1180.1 L1799.4,1183.5 L1811.3,1185.9 L1823.2,1189.5 L1835.1,1195.8 L1847.0,1205.0 L1858.9,1214.9 L1870.9,1221.8 L1882.8,1221.7 L1894.7,1212.6 L1906.6,1195.0 L1918.5,1171.6 L1930.4,1146.4 L1942.3,1122.8 L1954.2,1103.4 L1966.1,1089.7 L1978.0,1082.7 L1989.9,1083.1 L2001.9,1091.2 L2013.8,1106.3 L2025.7,1126.2 L2037.6,1147.1 L2049.5,1164.7 L2061.4,1175.6 L2073.3,1178.1 L2085.2,1173.3 L2097.1,1164.4 L2109.0,1155.3 L2120.9,1149.3 L2132.8,1147.7 L2144.8,1150.1 L2156.7,1154.5 L2168.6,1159.0 L2180.5,1162.3 L2192.4,1164.5 L2204.3,1166.0 L2216.2,1167.5 L2228.1,1169.0 L2240.0,1170.2 L2251.9,1170.8 L2263.8,1171.0 L2275.8,1171.3 L2287.7,1172.6 L2299.6,1175.1 L2311.5,1178.5 L2323.4,1181.3 L2335.3,1181.9 L2347.2,1178.8 L2359.1,1171.3 L2371.0,1159.7 L2382.9,1145.0 L2394.8,1128.4 L2406.8,1110.4 L2418.7,1091.7 L2430.6,1072.7 L2442.5,1054.3 L2454.4,1037.5 L2466.3,1022.9 L2478.2,1010.4 L2490.1,999.4 L2502.0,989.3 L2513.9,979.5 L2525.8,969.0 L2537.8,956.7 L2549.7,941.8 L2561.6,923.7 L2573.5,903.5 L2585.4,883.3 L2597.3,866.1 L2609.2,854.1 L2621.1,848.0 L2633.0,846.7 L2644.9,847.6 L2656.8,848.3 L2668.8,846.8 L2680.7,842.8 L2692.6,836.2 L2704.5,827.4 L2716.4,816.4 L2728.3,803.1 L2740.2,787.9 L2752.1,771.5 L2764.0,755.1 L2775.9,739.7 L2787.8,725.4 L2799.8,711.8 L2811.7,697.9 L2823.6,682.8 L2835.5,666.1 L2847.4,647.8 L2859.3,628.7 L2871.2,609.7 L2883.1,591.8" fill="none" stroke="#000" stroke-width="9" stroke-linejoin="round" stroke-linecap="butt"/>
<rect x="1029.6" y="201.6" width="1051.2000000000003" height="166.6" fill="#fff" stroke="#000" stroke-width="1.4"/>
<rect x="1979.2" y="212.1" width="76.8" height="20.9" fill="#ffc0c0"/>
<rect x="1979.2" y="252.9" width="76.8" height="22.0" fill="#ff0000"/>
<rect x="1979.2" y="295.1" width="76.8" height="21.9" fill="#0000ff"/>
<rect x="1979.2" y="343.1" width="76.8" height="9" fill="#000"/>
<text x="1954.5" y="236.5" text-anchor="end" font-family="'Liberation Sans',sans-serif" font-size="41.7" class="leg">year-to-date value</text>
<text x="1954.5" y="278.1" text-anchor="end" font-family="'Liberation Sans',sans-serif" font-size="41.7" class="leg">positive anomalies (relative to 1991-2020 mean)</text>
<text x="1954.5" y="319.8" text-anchor="end" font-family="'Liberation Sans',sans-serif" font-size="41.7" class="leg">negative anomalies (relative to 1991-2020 mean)</text>
<text x="1954.5" y="361.4" text-anchor="end" font-family="'Liberation Sans',sans-serif" font-size="41.7" class="leg">gaussian low-pass filter (3y σ, 31y window)</text>
<rect x="215.5" y="175.5" width="2679.5" height="1736.8" fill="none" stroke="#000" stroke-width="4.6"/>
<text x="180.3" y="1934.1" text-anchor="end" font-family="'Liberation Sans',sans-serif" font-size="62.5" class="hv" textLength="51.2" lengthAdjust="spacingAndGlyphs">-4</text>
<text x="180.3" y="1666.9" text-anchor="end" font-family="'Liberation Sans',sans-serif" font-size="62.5" class="hv" textLength="51.2" lengthAdjust="spacingAndGlyphs">-3</text>
<text x="180.3" y="1399.7" text-anchor="end" font-family="'Liberation Sans',sans-serif" font-size="62.5" class="hv" textLength="51.2" lengthAdjust="spacingAndGlyphs">-2</text>
<text x="180.3" y="1132.5" text-anchor="end" font-family="'Liberation Sans',sans-serif" font-size="62.5" class="hv" textLength="51.2" lengthAdjust="spacingAndGlyphs">-1</text>
<text x="180.3" y="865.3" text-anchor="end" font-family="'Liberation Sans',sans-serif" font-size="62.5" class="hv" textLength="32.0" lengthAdjust="spacingAndGlyphs">0</text>
<text x="180.3" y="598.1" text-anchor="end" font-family="'Liberation Sans',sans-serif" font-size="62.5" class="hv" textLength="32.0" lengthAdjust="spacingAndGlyphs">1</text>
<text x="180.3" y="330.9" text-anchor="end" font-family="'Liberation Sans',sans-serif" font-size="62.5" class="hv" textLength="32.0" lengthAdjust="spacingAndGlyphs">2</text>
<text x="224.7" y="1992" text-anchor="middle" font-family="'Liberation Sans',sans-serif" font-size="62.5" class="hv" textLength="128.0" lengthAdjust="spacingAndGlyphs">1800</text>
<text x="820.2" y="1992" text-anchor="middle" font-family="'Liberation Sans',sans-serif" font-size="62.5" class="hv" textLength="128.0" lengthAdjust="spacingAndGlyphs">1850</text>
<text x="1415.6" y="1992" text-anchor="middle" font-family="'Liberation Sans',sans-serif" font-size="62.5" class="hv" textLength="128.0" lengthAdjust="spacingAndGlyphs">1900</text>
<text x="2011.1" y="1992" text-anchor="middle" font-family="'Liberation Sans',sans-serif" font-size="62.5" class="hv" textLength="128.0" lengthAdjust="spacingAndGlyphs">1950</text>
<text x="2606.5" y="1992" text-anchor="middle" font-family="'Liberation Sans',sans-serif" font-size="62.5" class="hv" textLength="128.0" lengthAdjust="spacingAndGlyphs">2000</text>
<text x="1555" y="2078.8" text-anchor="middle" font-family="'Liberation Sans',sans-serif" font-size="62.3" class="hv">Year</text>
<text x="1001" y="100.1" font-family="'Liberation Sans',sans-serif" font-size="80.2" style="stroke:#000;stroke-width:0.7px" textLength="1113.0" lengthAdjust="spacingAndGlyphs">ANNUAL MEAN TEMPERATURE</text>
<g transform="translate(82.6,1078.6) rotate(-90) scale(0.92,1)"><text x="0" y="0" font-family="'Liberation Sans',sans-serif" font-size="62.5" class="hv"><tspan font-size="49" dy="-30">o</tspan><tspan dy="30">C</tspan></text></g>
<g><defs><clipPath id="ccclip"><rect x="9" y="9" width="392" height="133" rx="2"/></clipPath><linearGradient id="ccg" x1="0" y1="0" x2="1" y2="0"><stop offset="0" stop-color="#b4b9b2"/><stop offset="0.25" stop-color="#c6cac4"/><stop offset="0.55" stop-color="#aab0a9"/><stop offset="1" stop-color="#a9afa8"/></linearGradient></defs><rect x="5" y="5" width="400" height="141" rx="5" fill="#000"/><g clip-path="url(#ccclip)"><rect x="9" y="105.5" width="392" height="40" fill="#000"/><circle cx="72.7" cy="72.7" r="68" fill="#b3b8b1"/><rect x="9" y="9" width="392" height="96.5" fill="url(#ccg)"/></g><circle cx="72.7" cy="72.7" r="48.4" fill="#fff" stroke="#000" stroke-width="10.6"/><text x="73.2" y="89.6" text-anchor="middle" font-family="'Liberation Sans',sans-serif" font-weight="700" font-size="47" textLength="64" lengthAdjust="spacingAndGlyphs" style="fill:#000;stroke:#000;stroke-width:2px">CC</text><circle cx="186.1" cy="54.9" r="31.1" fill="#fff" stroke="#000" stroke-width="8.2"/><circle cx="268.0" cy="54.9" r="31.1" fill="#fff" stroke="#000" stroke-width="8.2"/><circle cx="350.3" cy="54.9" r="31.1" fill="#fff" stroke="#000" stroke-width="8.2"/><circle cx="186.2" cy="36.5" r="5" fill="#000"/><path d="M176.5,47.5 a2.5,2.5 0 0 1 2.5,-2.5 h14.2 a2.5,2.5 0 0 1 2.5,2.5 v15.5 h-4.6 v13 h-10 v-13 h-4.6 z" fill="#000"/><text x="268" y="73.5" text-anchor="middle" font-family="'Liberation Sans',sans-serif" font-weight="700" font-size="52" style="fill:#000">$</text><path d="M240,40.5 L299,67" stroke="#fff" stroke-width="7.5" /><path d="M239,41 L300,66.5" stroke="#000" stroke-width="3.6" /><rect x="335.6" y="46.4" width="27.6" height="6.8" fill="#000"/><rect x="335.6" y="60.2" width="27.6" height="6.8" fill="#000"/><text x="186" y="137.2" text-anchor="middle" font-family="'Liberation Sans',sans-serif" font-weight="700" font-size="32" style="fill:#fff">BY</text><text x="268.4" y="137.2" text-anchor="middle" font-family="'Liberation Sans',sans-serif" font-weight="700" font-size="32" style="fill:#fff">NC</text><text x="350.3" y="137.2" text-anchor="middle" font-family="'Liberation Sans',sans-serif" font-weight="700" font-size="32" style="fill:#fff">ND</text></g>
</svg>
</body></html>
